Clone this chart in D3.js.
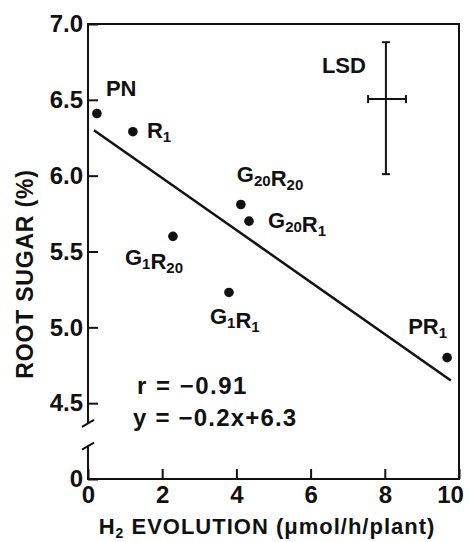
<!DOCTYPE html>
<html>
<head>
<meta charset="utf-8">
<script src="https://cdn.jsdelivr.net/npm/d3@7"></script>
<style>
  body { margin: 0; background: #fff; }
  svg text { font-family: "Liberation Sans", Arial, Helvetica, sans-serif; font-weight: bold; fill: #111; }
</style>
</head>
<body>
<div id="chart"></div>
<script>
// treatments, H2 evolution (umol/h/plant) and root sugar (%)
var treatments = ["PN", "R1", "G20R20", "G20R1", "G1R20", "G1R1", "PR1"];
var h2Evolution = [0.24, 1.21, 4.12, 4.34, 2.29, 3.80, 9.68];
var rootSugar = [6.41, 6.29, 5.81, 5.70, 5.60, 5.23, 4.80];

// label text split in [main, sub] pieces
var labelParts = [
  [["PN", ""]],
  [["R", "1"]],
  [["G", "20"], ["R", "20"]],
  [["G", "20"], ["R", "1"]],
  [["G", "1"], ["R", "20"]],
  [["G", "1"], ["R", "1"]],
  [["PR", "1"]]
];

// fitted line, drawn between these ends
var fitX = [0.16, 9.78];
var fitY = [6.30, 4.65];

// LSD bar: x centre, y range, y of horizontal bar, x range
var lsdX = 8.03;
var lsdY = [6.01, 6.88];
var lsdBarY = 6.505;
var lsdBarX = [7.55, 8.57];

var xTicks = [0, 2, 4, 6, 8, 10];
var yTicks = [4.5, 5.0, 5.5, 6.0, 6.5, 7.0];
var yBreak = [4.37, 4.22];

// label offsets in pixels from each point (layout only)
var labelOffsets = [[9, -17], [14, 6], [-4, -22], [19, 7], [-48, 29], [-19, 32], [-39, -24]];

var width = 470, height = 542;
var svg = d3.select("#chart").append("svg").attr("width", width).attr("height", height);

var x = d3.scaleLinear().domain([0, 10]).range([88, 459]);
// the axis is broken below 4.5; bottom of the scale is labelled 0
var y = d3.scaleLinear().domain([4.0, 7.0]).range([479, 24]);

// x axis, ticks pointing inward
var xAxis = svg.append("g")
  .attr("transform", "translate(0," + y(4.0) + ")")
  .call(d3.axisBottom(x).tickValues(xTicks).tickSizeInner(-10).tickSizeOuter(0).tickPadding(7));
xAxis.select(".domain").remove();
xAxis.selectAll("line").attr("stroke", "#111").attr("stroke-width", 2);
xAxis.selectAll("text").attr("font-size", 24).attr("fill", "#111")
  .attr("dx", function(d) { return d === 10 ? -9 : 0; });

// y axis
var yAxis = svg.append("g")
  .attr("transform", "translate(" + x(0) + ",0)")
  .call(d3.axisLeft(y).tickValues(yTicks.concat([4.0])).tickSizeInner(-10).tickSizeOuter(0).tickPadding(5)
    .tickFormat(function(d) { return d === 4.0 ? "0" : d3.format(".1f")(d); }));
yAxis.select(".domain").remove();
yAxis.selectAll("line").attr("stroke", "#111").attr("stroke-width", 2);
yAxis.selectAll("text").attr("font-size", 24).attr("fill", "#111");

// frame with the y break
var frame = svg.append("g").attr("fill", "none").attr("stroke", "#111").attr("stroke-width", 2);
frame.append("path").attr("d",
  "M" + x(0) + "," + y(yBreak[0]) + "L" + x(0) + "," + y(7.0) + "L" + x(10) + "," + y(7.0) +
  "L" + x(10) + "," + y(4.0) + "L" + x(0) + "," + y(4.0) + "L" + x(0) + "," + y(yBreak[1]));
yBreak.forEach(function(b) {
  var py = y(b);
  frame.append("line")
    .attr("x1", x(0) - 6).attr("y1", py + 4)
    .attr("x2", x(0) + 6).attr("y2", py - 3);
});

// regression line
svg.append("line")
  .attr("x1", x(fitX[0])).attr("y1", y(fitY[0]))
  .attr("x2", x(fitX[1])).attr("y2", y(fitY[1]))
  .attr("stroke", "#111").attr("stroke-width", 2.5);

// points
svg.append("g").selectAll("circle")
  .data(treatments)
  .enter().append("circle")
    .attr("cx", function(d, i) { return x(h2Evolution[i]); })
    .attr("cy", function(d, i) { return y(rootSugar[i]); })
    .attr("r", 4.8)
    .attr("fill", "#111");

// point labels with subscripts
var labels = svg.append("g").selectAll("text")
  .data(treatments)
  .enter().append("text")
    .attr("x", function(d, i) { return x(h2Evolution[i]) + labelOffsets[i][0]; })
    .attr("y", function(d, i) { return y(rootSugar[i]) + labelOffsets[i][1]; })
    .attr("font-size", 22);
labels.each(function(d, i) {
  var t = d3.select(this);
  labelParts[i].forEach(function(p) {
    t.append("tspan").attr("font-size", 22).attr("dy", 0).text(p[0]);
    if (p[1]) {
      t.append("tspan").attr("font-size", 15).attr("dy", 4).text(p[1]);
      t.append("tspan").attr("font-size", 22).attr("dy", -4).text("");
    }
  });
});

// LSD bar
var lsd = svg.append("g").attr("stroke", "#111").attr("stroke-width", 2);
lsd.append("line").attr("x1", x(lsdX)).attr("x2", x(lsdX)).attr("y1", y(lsdY[0])).attr("y2", y(lsdY[1]));
lsdY.forEach(function(v) {
  lsd.append("line").attr("x1", x(lsdX) - 4).attr("x2", x(lsdX) + 4).attr("y1", y(v)).attr("y2", y(v));
});
lsd.append("line").attr("x1", x(lsdBarX[0])).attr("x2", x(lsdBarX[1])).attr("y1", y(lsdBarY)).attr("y2", y(lsdBarY));
lsdBarX.forEach(function(v) {
  lsd.append("line").attr("x1", x(v)).attr("x2", x(v)).attr("y1", y(lsdBarY) - 4).attr("y2", y(lsdBarY) + 4);
});
svg.append("text").attr("x", x(lsdX) - 64).attr("y", y(lsdY[1]) + 31).attr("font-size", 22).text("LSD");

// fit statistics
svg.append("text").attr("x", 137).attr("y", 394).attr("font-size", 24).attr("letter-spacing", 1.5)
  .text("r = \u22120.91");
svg.append("text").attr("x", 133).attr("y", 426).attr("font-size", 24).attr("letter-spacing", 1.2)
  .text("y = \u22120.2x+6.3");

// axis titles
svg.append("text")
  .attr("transform", "translate(33,274) rotate(-90)")
  .attr("text-anchor", "middle").attr("font-size", 23).attr("letter-spacing", 0.8)
  .text("ROOT SUGAR (%)");

var xt = svg.append("text").attr("x", 267).attr("y", 534).attr("text-anchor", "middle")
  .attr("font-size", 22).attr("letter-spacing", 1.0);
xt.append("tspan").text("H");
xt.append("tspan").attr("font-size", 14).attr("dy", 4).text("2");
xt.append("tspan").attr("dy", -4).text(" EVOLUTION (\u03bcmol/h/plant)");
</script>
</body>
</html>
